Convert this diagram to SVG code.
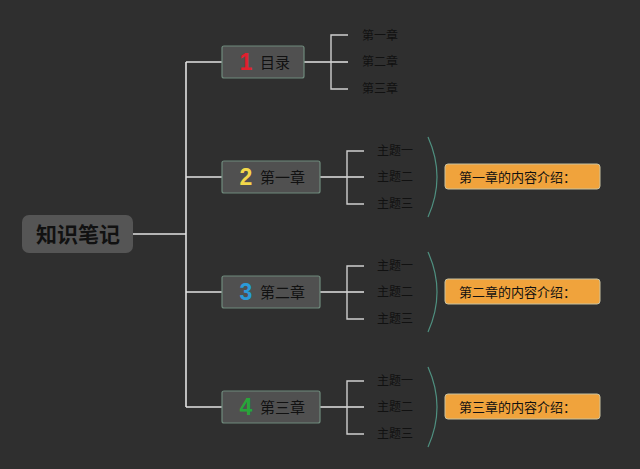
<svg xmlns="http://www.w3.org/2000/svg" width="640" height="469" viewBox="0 0 640 469">
<style>
.t{font-family:"Noto Sans CJK SC","Liberation Sans",sans-serif;fill:#111111}
.node{fill:#505050;stroke:#6f8a7c;stroke-width:1.2}
.num{font-family:"Liberation Sans","Noto Sans CJK SC",sans-serif;font-weight:bold;font-size:23px}
.lbl{font-size:15px}
.sub{font-size:12px}
.info{fill:#f0a33c;stroke:#c9c2a0;stroke-width:1}
.ln{fill:none;stroke:#e2e2e2;stroke-width:1.6}
.br{fill:none;stroke:#cfcfcf;stroke-width:1.4}
.arc{fill:none;stroke:#4f9080;stroke-width:1.2}
</style>
<rect width="640" height="469" fill="#2f2f2f"/>
<g id="connectors">
<path class="ln" d="M133 234H186M186 62V407M186 62H222M186 177H222M186 292H222M186 407H222"/>
<path class="ln" d="M304 62H348M320 177H364M320 292H364M320 407H364"/>
<path class="br" d="M348 35H331V89H348M364 151H347V204H364M364 266H347V319H364M364 381H347V434H364"/>
<path class="arc" d="M428 137Q446 177 428 217M428 252Q446 292 428 332M428 367Q446 407 428 447"/>
</g>
<g id="root">
<rect x="22" y="215" width="111" height="38" rx="7" fill="#555555"/>
<text class="t" x="78" y="242" font-size="21" font-weight="bold" text-anchor="middle">知识笔记</text>
</g>
<g id="n1">
<rect class="node" x="222" y="46" width="82" height="32" rx="2"/>
<text class="num" x="246" y="70" text-anchor="middle" fill="#e0202e">1</text>
<text class="t lbl" x="260" y="68">目录</text>
</g>
<g id="n1c">
<text class="t sub" x="362" y="40">第一章</text>
<text class="t sub" x="362" y="66">第二章</text>
<text class="t sub" x="362" y="93">第三章</text>
</g>
<g id="n2">
<rect class="node" x="222" y="161" width="98" height="32" rx="2"/>
<text class="num" x="246" y="185" text-anchor="middle" fill="#f2d84a">2</text>
<text class="t lbl" x="260" y="183">第一章</text>
</g>
<g id="n2c">
<text class="t sub" x="377" y="155">主题一</text>
<text class="t sub" x="377" y="181">主题二</text>
<text class="t sub" x="377" y="208">主题三</text>
</g>
<g id="i2">
<rect class="info" x="445" y="164" width="155" height="25" rx="3"/>
<text class="t" x="459" y="182" font-size="13">第一章的内容介绍：</text>
</g>
<g id="n3">
<rect class="node" x="222" y="276" width="98" height="32" rx="2"/>
<text class="num" x="246" y="300" text-anchor="middle" fill="#2a9ad8">3</text>
<text class="t lbl" x="260" y="298">第二章</text>
</g>
<g id="n3c">
<text class="t sub" x="377" y="270">主题一</text>
<text class="t sub" x="377" y="296">主题二</text>
<text class="t sub" x="377" y="323">主题三</text>
</g>
<g id="i3">
<rect class="info" x="445" y="279" width="155" height="25" rx="3"/>
<text class="t" x="459" y="297" font-size="13">第二章的内容介绍：</text>
</g>
<g id="n4">
<rect class="node" x="222" y="391" width="98" height="32" rx="2"/>
<text class="num" x="246" y="415" text-anchor="middle" fill="#27a53a">4</text>
<text class="t lbl" x="260" y="413">第三章</text>
</g>
<g id="n4c">
<text class="t sub" x="377" y="385">主题一</text>
<text class="t sub" x="377" y="411">主题二</text>
<text class="t sub" x="377" y="438">主题三</text>
</g>
<g id="i4">
<rect class="info" x="445" y="394" width="155" height="25" rx="3"/>
<text class="t" x="459" y="412" font-size="13">第三章的内容介绍：</text>
</g>
</svg>
